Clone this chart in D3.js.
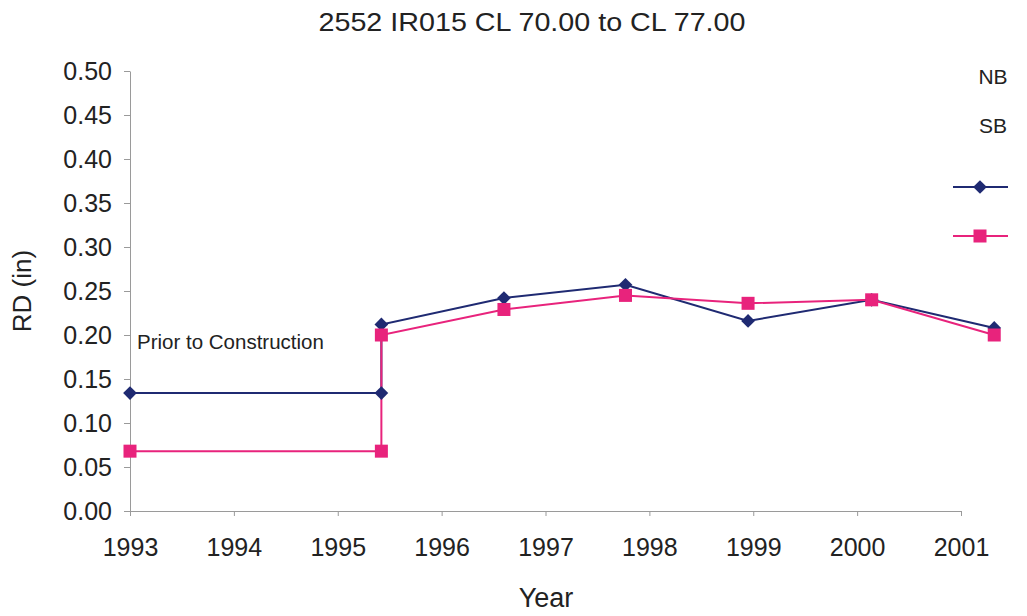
<!DOCTYPE html>
<html><head><meta charset="utf-8">
<script src="https://cdn.jsdelivr.net/npm/d3@7"></script>
<style>body{margin:0;background:#fff}svg{display:block}text{font-family:"Liberation Sans",Arial,sans-serif;fill:#222}</style>
</head><body><svg id="c" width="1027" height="616"></svg>
<script>
const title = "2552 IR015 CL 70.00 to CL 77.00";
const years = [1993, 1995.42, 1995.42, 1996.6, 1997.77, 1998.95, 2000.14, 2001.32];
const nbValues = [0.134, 0.134, 0.212, 0.242, 0.257, 0.216, 0.240, 0.208];
const sbValues = [0.068, 0.068, 0.200, 0.229, 0.245, 0.236, 0.240, 0.200];
const xTicks = [1993, 1994, 1995, 1996, 1997, 1998, 1999, 2000, 2001];
const yTicks = [0, 0.05, 0.10, 0.15, 0.20, 0.25, 0.30, 0.35, 0.40, 0.45, 0.50];
const seriesNames = ["NB", "SB"];
const annotation = "Prior to Construction";

const svg = d3.select("#c");
const L = 130, R = 961, T = 71, B = 511;
const x = d3.scaleLinear().domain([1993, 2001]).range([L, R]);
const y = d3.scaleLinear().domain([0, 0.5]).range([B, T]);
const axisCol = "#9a9a9a";
const nbCol = "#1f2a72", sbCol = "#e8237c";
const ff = '"Liberation Sans",Arial,sans-serif';

svg.append("text").attr("x", 532).attr("y", 31).attr("text-anchor", "middle")
  .attr("font-size", 25).attr("textLength", 427).attr("lengthAdjust", "spacingAndGlyphs").text(title);

// y axis
const ya = svg.append("g").attr("transform", `translate(${L},0)`)
  .call(d3.axisLeft(y).tickValues(yTicks).tickFormat(d3.format(".2f")).tickSize(6).tickSizeOuter(0).tickPadding(12));
ya.select(".domain").attr("stroke", axisCol);
ya.selectAll(".tick line").attr("stroke", axisCol);
ya.selectAll(".tick text").attr("font-size", 25).attr("fill", "#222").attr("font-family", ff);

// x axis
const xa = svg.append("g").attr("transform", `translate(0,${B})`)
  .call(d3.axisBottom(x).tickValues(xTicks).tickFormat(d3.format("d")).tickSize(5).tickSizeOuter(0).tickPadding(22));
xa.select(".domain").attr("stroke", axisCol);
xa.selectAll(".tick line").attr("stroke", axisCol);
xa.selectAll(".tick text").attr("font-size", 25).attr("fill", "#222").attr("font-family", ff);

svg.append("text").attr("transform", "translate(31,291) rotate(-90)").attr("text-anchor", "middle")
  .attr("font-size", 26).text("RD (in)");
svg.append("text").attr("x", 546).attr("y", 607).attr("text-anchor", "middle")
  .attr("font-size", 27).text("Year");

svg.append("text").attr("x", 137).attr("y", 349).attr("font-size", 20.5).text(annotation);

const line = d3.line().x(d => x(d[0])).y(d => y(d[1]));
const nb = years.map((t, i) => [t, nbValues[i]]);
const sb = years.map((t, i) => [t, sbValues[i]]);
svg.append("path").datum(nb).attr("d", line).attr("fill", "none").attr("stroke", nbCol).attr("stroke-width", 2);
svg.append("path").datum(sb).attr("d", line).attr("fill", "none").attr("stroke", sbCol).attr("stroke-width", 2);

const diamond = d3.symbol().type(d3.symbolDiamond2).size(120);
svg.append("g").selectAll("path").data(nb).join("path")
  .attr("d", diamond).attr("transform", d => `translate(${x(d[0])},${y(d[1])})`).attr("fill", nbCol);
svg.append("g").selectAll("rect").data(sb).join("rect")
  .attr("x", d => x(d[0]) - 6.5).attr("y", d => y(d[1]) - 6.5).attr("width", 13).attr("height", 13).attr("fill", sbCol);

// legend
svg.append("text").attr("x", 993).attr("y", 84).attr("text-anchor", "middle").attr("font-size", 21).text(seriesNames[0]);
svg.append("text").attr("x", 993).attr("y", 133).attr("text-anchor", "middle").attr("font-size", 21).text(seriesNames[1]);
svg.append("line").attr("x1", 953).attr("x2", 1008).attr("y1", 187).attr("y2", 187).attr("stroke", nbCol).attr("stroke-width", 2);
svg.append("path").attr("d", diamond).attr("transform", "translate(980,187)").attr("fill", nbCol);
svg.append("line").attr("x1", 953).attr("x2", 1008).attr("y1", 236).attr("y2", 236).attr("stroke", sbCol).attr("stroke-width", 2);
svg.append("rect").attr("x", 973.5).attr("y", 229.5).attr("width", 13).attr("height", 13).attr("fill", sbCol);
</script></body></html>
